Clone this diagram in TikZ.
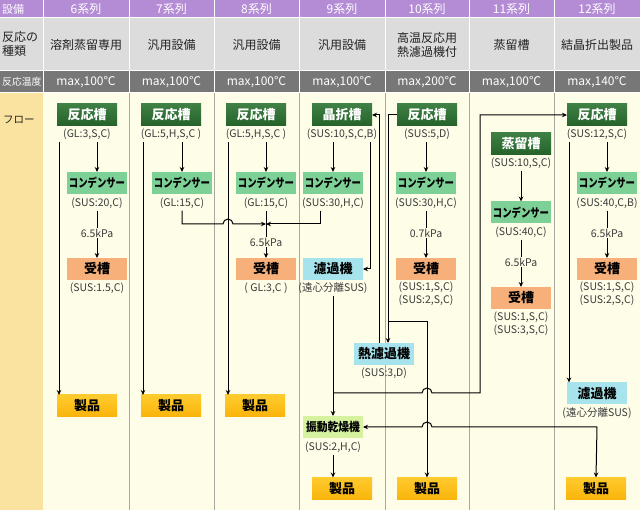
\documentclass[tikz,border=0pt]{standalone}
\usepackage{fontspec}
\usepackage{graphicx}
\setmainfont{Noto Sans CJK JP}
\usetikzlibrary{arrows.meta,calc}
\definecolor{hdrpurple}{HTML}{B48CD6}
\definecolor{rowgray}{HTML}{DCDCDC}
\definecolor{rowdark}{HTML}{777777}
\definecolor{flowleft}{HTML}{FAE3A0}
\definecolor{cream}{HTML}{FEFDE8}
\definecolor{sepgray}{HTML}{A8A8A0}
\definecolor{dkgreen}{HTML}{24622A}
\definecolor{dkgreentop}{HTML}{3F8044}
\definecolor{ltgreen}{HTML}{7DD197}
\definecolor{recvorange}{HTML}{F8B07A}
\definecolor{filtcyan}{HTML}{A6E3EC}
\definecolor{prodgold}{HTML}{F9B40A}
\definecolor{prodgoldtop}{HTML}{FFCB2E}
\definecolor{dryergreen}{HTML}{D6F29E}
\definecolor{lblgray}{HTML}{3A3A3A}
\definecolor{hdrtext}{HTML}{222222}
\newcommand{\cndtext}{\scalebox{0.78}[1]{コンデンサー}}
\newcommand{\drytext}{\scalebox{0.9}[1]{振動乾燥機}}
\begin{document}
\begin{tikzpicture}[x=1pt,y=-1pt,
  box/.style={minimum width=60pt, minimum height=22pt, inner sep=0pt, outer sep=0pt, font=\fontsize{13}{13}\selectfont\bfseries},
  reactor/.style={box, top color=dkgreentop, bottom color=dkgreen, text=white},
  cond/.style={box, fill=ltgreen, font=\fontsize{12}{12}\selectfont\bfseries},
  recv/.style={box, fill=recvorange},
  filt/.style={box, fill=filtcyan},
  prod/.style={box, top color=prodgoldtop, bottom color=prodgold},
  dryer/.style={box, fill=dryergreen, font=\fontsize{12}{12}\selectfont\bfseries},
  lbl/.style={inner sep=0pt, text=lblgray, font=\fontsize{10.5}{10.5}\selectfont},
  hdrw/.style={inner sep=0pt, text=white, font=\fontsize{12}{12}\selectfont},
  hdrb/.style={inner sep=0pt, text=hdrtext, font=\fontsize{12}{12}\selectfont},
  conn/.style={draw=black, line width=1pt},
  arr/.style={conn, -{Stealth[length=5pt,width=4.5pt]}}
]
\useasboundingbox (0,0) rectangle (640,510);
\fill[white] (0,0) rectangle (640,510);
% header cells
\foreach \a/\b in {0/43, 44/129, 130/214, 215/299, 300/385, 386/469, 470/554, 555/640} {
  \fill[hdrpurple] (\a,0) rectangle (\b,17);
  \fill[rowgray] (\a,18) rectangle (\b,70);
  \fill[rowdark] (\a,71) rectangle (\b,92);
}
\fill[flowleft] (0,93) rectangle (43,510);
\fill[cream] (43,93) rectangle (640,510);
\foreach \x in {129,214,299,385,469,554} \draw[sepgray, line width=1pt] (\x,93) -- (\x,510);

% header texts
\node[hdrw, anchor=west, font=\fontsize{11}{11}\selectfont] (h0) at (2,9) {設備};
\node[hdrb, anchor=west] (h1a) at (2,37) {反応の};
\node[hdrb, anchor=west] (h1b) at (2,51) {種類};
\node[hdrw, anchor=west, font=\fontsize{9.8}{9.8}\selectfont] (h2) at (2,82) {反応温度};
\node[hdrb, anchor=west, font=\fontsize{10.5}{10.5}\selectfont] (h3) at (3,120) {フロー};

\node[hdrw] (s6) at (86,9) {6系列};
\node[hdrw] (s7) at (171.5,9) {7系列};
\node[hdrw] (s8) at (256.5,9) {8系列};
\node[hdrw] (s9) at (342,9) {9系列};
\node[hdrw] (s10) at (427,9) {10系列};
\node[hdrw] (s11) at (511.5,9) {11系列};
\node[hdrw] (s12) at (597,9) {12系列};

\node[hdrb] (t6) at (86,45) {溶剤蒸留専用};
\node[hdrb] (t7) at (171.5,45) {汎用設備};
\node[hdrb] (t8) at (256.5,45) {汎用設備};
\node[hdrb] (t9) at (342,45) {汎用設備};
\node[hdrb] (t10a) at (427,38) {高温反応用};
\node[hdrb] (t10b) at (427,52) {熱濾過機付};
\node[hdrb] (t11) at (511.5,45) {蒸留槽};
\node[hdrb] (t12) at (597,45) {結晶折出製品};

\node[hdrw] (m6) at (86,82) {max,100℃};
\node[hdrw] (m7) at (171.5,82) {max,100℃};
\node[hdrw] (m8) at (256.5,82) {max,100℃};
\node[hdrw] (m9) at (342,82) {max,100℃};
\node[hdrw] (m10) at (427,82) {max,200℃};
\node[hdrw] (m11) at (511.5,82) {max,100℃};
\node[hdrw] (m12) at (597,82) {max,140℃};

% ---------- column 6
\node[reactor] (r6) at (87,115) {反応槽};
\node[lbl] (lr6) at (87,134.5) {(GL:3,S,C)};
\node[cond] (c6) at (97,183) {\cndtext};
\node[lbl] (lc6) at (97,203) {(SUS:20,C)};
\node[lbl] (kp6) at (97,233) {6.5kPa};
\node[recv] (k6) at (97,269) {受槽};
\node[lbl] (lk6) at (97,288) {(SUS:1.5,C)};
\node[prod] (prod6) at (87,406) {製品};
% ---------- column 7
\node[reactor] (r7) at (171,115) {反応槽};
\node[lbl] (lr7) at (171,134.5) {(GL:5,H,S,C )};
\node[cond] (c7) at (182,183) {\cndtext};
\node[lbl] (lc7) at (182,203) {(GL:15,C)};
\node[prod] (prod7) at (171,406) {製品};
% ---------- column 8
\node[reactor] (r8) at (256,115) {反応槽};
\node[lbl] (lr8) at (256,134.5) {(GL:5,H,S,C )};
\node[cond] (c8) at (266,183) {\cndtext};
\node[lbl] (lc8) at (266,203) {(GL:15,C)};
\node[lbl] (kp8) at (266,242) {6.5kPa};
\node[recv] (k8) at (266,269) {受槽};
\node[lbl] (lk8) at (266,288) {( GL:3,C )};
\node[prod] (prod8) at (255,406) {製品};
% ---------- column 9
\node[reactor] (r9) at (342,115) {晶折槽};
\node[lbl] (lr9) at (342,134.5) {(SUS:10,S,C,B)};
\node[cond] (c9) at (333,183) {\cndtext};
\node[lbl] (lc9) at (333,203) {(SUS:30,H,C)};
\node[filt] (f9) at (333,269) {濾過機};
\node[lbl] (lf9) at (333,288) {(遠心分離SUS)};
\node[dryer] (d9) at (333,427) {\drytext};
\node[lbl] (ld9) at (333,447) {(SUS:2,H,C)};
\node[prod] (prod9) at (342,488.5) {製品};
% ---------- column 10
\node[reactor] (r10) at (427,115) {反応槽};
\node[lbl] (lr10) at (427,134.5) {(SUS:5,D)};
\node[cond] (c10) at (426,183) {\cndtext};
\node[lbl] (lc10) at (426,203) {(SUS:30,H,C)};
\node[lbl] (kp10) at (426,233) {0.7kPa};
\node[recv] (k10) at (426,269) {受槽};
\node[lbl] (lk10a) at (426,287) {(SUS:1,S,C)};
\node[lbl] (lk10b) at (426,300) {(SUS:2,S,C)};
\node[filt] (hf) at (384,354) {熱濾過機};
\node[lbl] (lhf) at (384,373) {(SUS:3,D)};
\node[prod] (prod10) at (427,488.5) {製品};
% ---------- column 11
\node[reactor] (r11) at (521,144) {蒸留槽};
\node[lbl] (lr11) at (521,163) {(SUS:10,S,C)};
\node[cond] (c11) at (521,212.5) {\cndtext};
\node[lbl] (lc11) at (521,232) {(SUS:40,C)};
\node[lbl] (kp11) at (521,262) {6.5kPa};
\node[recv] (k11) at (521,298) {受槽};
\node[lbl] (lk11a) at (521,317) {(SUS:1,S,C)};
\node[lbl] (lk11b) at (521,330) {(SUS:3,S,C)};
% ---------- column 12
\node[reactor] (r12) at (597,115) {反応槽};
\node[lbl] (lr12) at (597,134.5) {(SUS:12,S,C)};
\node[cond] (c12) at (607,183) {\cndtext};
\node[lbl] (lc12) at (607,203) {(SUS:40,C,B)};
\node[lbl] (kp12) at (607,233) {6.5kPa};
\node[recv] (k12) at (607,269) {受槽};
\node[lbl] (lk12a) at (607,287) {(SUS:1,S,C)};
\node[lbl] (lk12b) at (607,300) {(SUS:2,S,C)};
\node[filt] (f12) at (597,393.5) {濾過機};
\node[lbl] (lf12) at (597,413) {(遠心分離SUS)};
\node[prod] (prod12) at (596,488.5) {製品};

% ---------- lanes
\coordinate (b6) at (59,0);
\coordinate (b7) at (143,0);
\coordinate (b8) at (228,0);
\coordinate (b12) at (569,0);
\coordinate (j8) at (266,224);
\coordinate (l370) at (370,0);
\coordinate (l379) at (379,0);
\coordinate (l388) at (388,115);
\coordinate (br10) at (388,322);
\coordinate (j9) at (333,393);
\coordinate (l480) at (480,393);
\coordinate (cr12) at (597,427);

% ---------- connectors column 6
\draw[arr, shorten <=2pt] (lr6.south -| c6) -- (c6.north);
\draw[conn, shorten <=2pt, shorten >=1pt] (lc6.south) -- (kp6.north);
\draw[arr, shorten <=1pt] (kp6.south) -- (k6.north);
\draw[arr, shorten <=2pt] (b6 |- lr6.south) -- (b6 |- prod6.north);
% column 7
\draw[arr, shorten <=2pt] (lr7.south -| c7) -- (c7.north);
\draw[arr, shorten <=2pt] (b7 |- lr7.south) -- (b7 |- prod7.north);
\draw[arr, shorten <=2pt] (lc7.south) |- ($(b8 |- j8)+(-5,0)$) arc[start angle=180, end angle=0, radius=5pt] -- (j8);
% column 8
\draw[arr, shorten <=2pt] (lr8.south -| c8) -- (c8.north);
\draw[arr, shorten <=2pt] (b8 |- lr8.south) -- (b8 |- prod8.north);
\draw[conn, shorten <=2pt, shorten >=1pt] (lc8.south) -- (kp8.north);
\draw[arr, shorten <=1pt] (kp8.south) -- (k8.north);
% column 9
\draw[arr, shorten <=2pt] (lr9.south -| c9) -- (c9.north);
\draw[arr, shorten <=2pt] ([xshift=-13pt]lc9.south) |- (j8);
\draw[arr, shorten <=2pt] (l370 |- lr9.south) |- (f9.east);
\draw[arr, shorten <=2pt] (lf9.south) -- (d9.north);
\draw[arr, shorten <=2pt] (ld9.south) -- (ld9.south |- prod9.north);
% column 10
\draw[arr, shorten <=2pt] (lr10.south -| c10) -- (c10.north);
\draw[conn, shorten <=2pt, shorten >=1pt] (lc10.south) -- (kp10.north);
\draw[arr, shorten <=1pt] (kp10.south) -- (k10.north);
\draw[arr] (r10.west) -- (l388) -- (l388 |- hf.north);
\draw[arr] (l379 |- hf.north) |- (r9.east);
\draw[arr] (br10) -| (prod10.north);
% column 11
\draw[arr, shorten <=2pt] (lr11.south) -- (c11.north);
\draw[conn, shorten <=2pt, shorten >=1pt] (lc11.south) -- (kp11.north);
\draw[arr, shorten <=1pt] (kp11.south) -- (k11.north);
\draw[arr] (j9) -- ($(prod10.north |- j9)+(-5,0)$) arc[start angle=180, end angle=0, radius=5pt] -- (l480) |- (r12.west);
% column 12
\draw[arr, shorten <=2pt] (lr12.south -| c12) -- (c12.north);
\draw[conn, shorten <=2pt, shorten >=1pt] (lc12.south) -- (kp12.north);
\draw[arr, shorten <=1pt] (kp12.south) -- (k12.north);
\draw[arr, shorten <=2pt] (b12 |- lr12.south) -- (b12 |- f12.north);
\draw[arr] (cr12) -- (prod12.north);
\draw[arr] (cr12) -- ($(prod10.north |- cr12)+(5,0)$) arc[start angle=0, end angle=180, radius=5pt] -- (d9.east);
\end{tikzpicture}
\end{document}
